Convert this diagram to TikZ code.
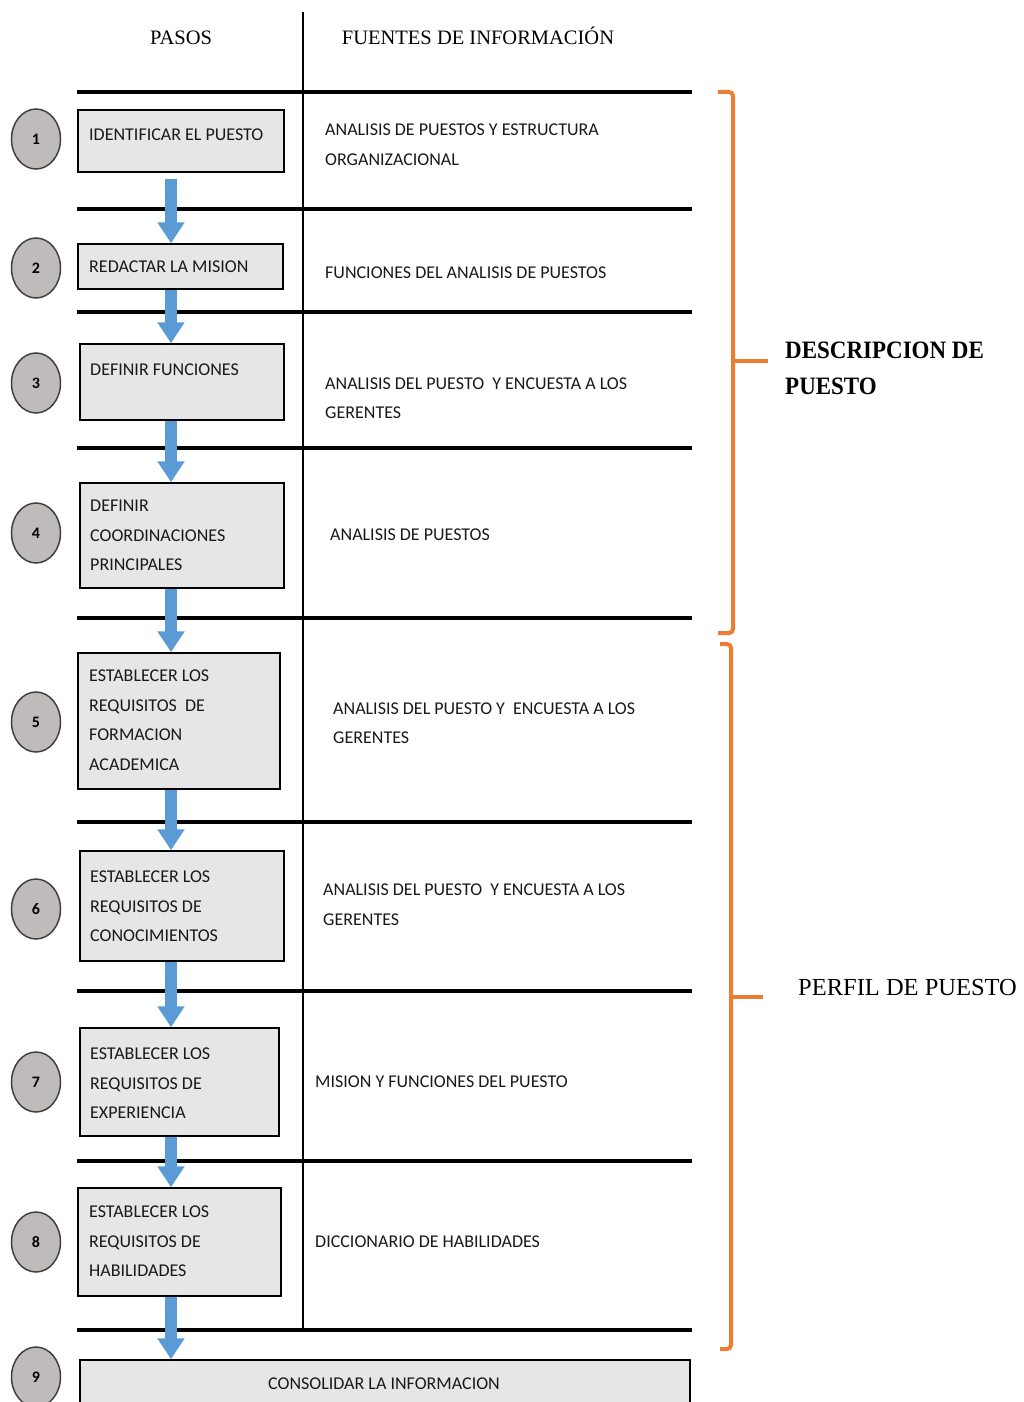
\documentclass[tikz,border=0pt]{standalone}
\usepackage{fontspec}
\usetikzlibrary{arrows.meta,shapes.geometric}
\newfontfamily\calfont{Carlito}
\newfontfamily\serfont{Liberation Serif}
\newfontfamily\serbfont[FakeStretch=0.92]{Liberation Serif Bold}
\definecolor{arrowblue}{HTML}{5B9BD5}
\definecolor{bracketorange}{HTML}{ED7D31}
\definecolor{boxgray}{HTML}{E7E6E6}
\definecolor{circgray}{HTML}{BFBBBB}
\newcommand{\mkbox}[5]{\node[stepbox, minimum width={#4-#2}, minimum height={#5-#3}] (#1) at ({(#2+#4)/2},{(#3+#5)/2}) {};}
\begin{document}
\begin{tikzpicture}[x=1pt,y=-1pt,
  stepbox/.style={draw=black, line width=1.5pt, fill=boxgray, inner sep=0pt},
  numcirc/.style={ellipse, draw=black!75, line width=1.5pt, fill=circgray, minimum width=49pt, minimum height=60pt, inner sep=0pt, font=\calfont\bfseries\fontsize{16}{16}\selectfont},
  btext/.style={anchor=west, align=left, inner sep=0pt, text=black!90, font=\calfont\fontsize{18}{29.5}\selectfont},
  ctext/.style={anchor=center, inner sep=0pt, text=black!90, font=\calfont\fontsize{18}{29.5}\selectfont},
  rulel/.style={line width=3.5pt},
  arr/.style={arrowblue, line width=12pt, -{Triangle[width=26pt,length=21pt]}},
  brk/.style={bracketorange, line width=4pt, rounded corners=4pt},
  head/.style={inner sep=0pt, font=\serfont\fontsize{20.5}{24}\selectfont},
  sidelab/.style={anchor=west, align=left, inner sep=0pt, font=\serfont\fontsize{24.5}{36}\selectfont},
]
\useasboundingbox (0,0) rectangle (1023,1402);

% headers
\node[head] (hpasos) at (181,38) {PASOS};
\node[head] (hfuentes) at (478,36) {FUENTES DE INFORMACIÓN};

% table lines
\draw[line width=1.5pt] (303,12) -- (303,1330);
\foreach \yy in {92,209,312,448,618,822,991,1161,1330}
  \draw[rulel] (77,\yy) -- (692,\yy);

% boxes
\mkbox{b1}{78}{110}{284}{172}
\mkbox{b2}{78}{244}{283}{289}
\mkbox{b3}{80}{344}{284}{420}
\mkbox{b4}{80}{483}{284}{588}
\mkbox{b5}{78}{653}{280}{789}
\mkbox{b6}{80}{851}{284}{961}
\mkbox{b7}{80}{1028}{279}{1136}
\mkbox{b8}{78}{1188}{281}{1296}
\mkbox{b9}{80}{1360}{690}{1425}

% box texts
\node[btext] (t1) at (89,135) {IDENTIFICAR EL PUESTO};
\node[btext] (t2) at (89,267) {REDACTAR LA MISION};
\node[btext] (t3) at (90,370) {DEFINIR FUNCIONES};
\node[btext] (t4) at (90,535.5) {DEFINIR\\COORDINACIONES\\PRINCIPALES};
\node[btext] (t5) at (89,720) {ESTABLECER LOS\\REQUISITOS\ \ DE\\FORMACION\\ACADEMICA};
\node[btext] (t6) at (90,906.5) {ESTABLECER LOS\\REQUISITOS DE\\CONOCIMIENTOS};
\node[btext] (t7) at (90,1083.5) {ESTABLECER LOS\\REQUISITOS DE\\EXPERIENCIA};
\node[btext] (t8) at (89,1241.5) {ESTABLECER LOS\\REQUISITOS DE\\HABILIDADES};
\node[ctext] (t9) at (384,1384) {CONSOLIDAR LA INFORMACION};

% sources
\node[btext] (r1) at (325,144.5) {ANALISIS DE PUESTOS Y ESTRUCTURA\\ORGANIZACIONAL};
\node[btext] (r2) at (325,273) {FUNCIONES DEL ANALISIS DE PUESTOS};
\node[btext] (r3) at (325,398) {ANALISIS DEL PUESTO\ \ Y ENCUESTA A LOS\\GERENTES};
\node[btext] (r4) at (330,535) {ANALISIS DE PUESTOS};
\node[btext] (r5) at (333,723) {ANALISIS DEL PUESTO Y\ \ ENCUESTA A LOS\\GERENTES};
\node[btext] (r6) at (323,904.5) {ANALISIS DEL PUESTO\ \ Y ENCUESTA A LOS\\GERENTES};
\node[btext] (r7) at (315,1082) {MISION Y FUNCIONES DEL PUESTO};
\node[btext] (r8) at (315,1242) {DICCIONARIO DE HABILIDADES};

% number circles
\foreach \n/\yy in {1/139,2/268,3/383,4/533,5/722,6/909,7/1082,8/1242,9/1377}
  \node[numcirc] (c\n) at (36,\yy) {\n};

% arrows
\coordinate (ax) at (171,0);
\draw[arr] ([yshift=-6pt]b1.south -| ax) -- (b2.north -| ax);
\draw[arr] (b2.south -| ax) -- (b3.north -| ax);
\draw[arr] (b3.south -| ax) -- (b4.north -| ax);
\draw[arr] (b4.south -| ax) -- (b5.north -| ax);
\draw[arr] (b5.south -| ax) -- (b6.north -| ax);
\draw[arr] (b6.south -| ax) -- (b7.north -| ax);
\draw[arr] (b7.south -| ax) -- (b8.north -| ax);
\draw[arr] (b8.south -| ax) -- (b9.north -| ax);

% brackets
\draw[brk] (718,92) -- (733,92) -- (733,633) -- (718,633);
\coordinate (k1) at (733,361);
\coordinate (k1e) at (768,361);
\draw[bracketorange, line width=4pt] (k1) -- (k1e);
\draw[brk] (720,644) -- (731,644) -- (731,1349) -- (720,1349);
\coordinate (k2) at (731,997);
\coordinate (k2e) at (763,997);
\draw[bracketorange, line width=4pt] (k2) -- (k2e);

\node[sidelab, font=\serbfont\fontsize{25}{36}\selectfont] (ldesc) at (785,368) {DESCRIPCION DE\\PUESTO};
\node[sidelab] (lperfil) at (798,987) {PERFIL DE PUESTO};
\end{tikzpicture}
\end{document}
